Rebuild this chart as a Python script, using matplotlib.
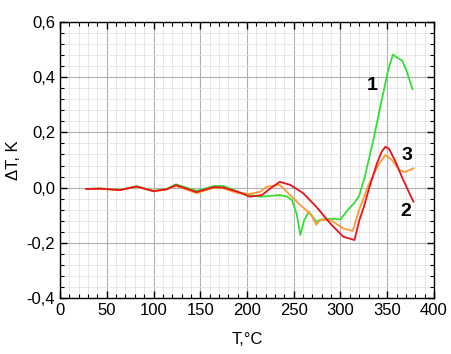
import matplotlib
matplotlib.use("Agg")
import matplotlib.pyplot as plt
from matplotlib.ticker import MultipleLocator, FuncFormatter

plt.rcParams['font.family'] = ['Liberation Sans', 'DejaVu Sans']

# Curve 1 (green)
t1 = [28, 43, 64, 82, 100, 114, 124, 146, 165, 175, 190, 203, 214, 225, 235, 243, 248, 253, 257,
      261, 266, 270, 274, 280, 290, 300, 308, 315, 320, 326, 335, 343, 351, 356, 361, 366, 371, 377]
y1 = [-0.005, -0.003, -0.008, 0.005, -0.012, -0.005, 0.012, -0.012, 0.006, 0.006, -0.015, -0.027,
      -0.033, -0.030, -0.027, -0.033, -0.045, -0.093, -0.172, -0.120, -0.087, -0.105, -0.123, -0.115,
      -0.113, -0.115, -0.080, -0.055, -0.030, 0.040, 0.170, 0.300, 0.426, 0.482, 0.470, 0.460, 0.420, 0.356]

# Curve 3 (orange)
t3 = [28, 43, 64, 82, 100, 114, 124, 146, 165, 175, 190, 203, 214, 221, 235, 246, 257, 269, 274,
      278, 289, 303, 313, 320, 330, 340, 348, 355, 363, 369, 378]
y3 = [-0.005, -0.004, -0.009, 0.003, -0.013, -0.007, 0.006, -0.020, 0.000, -0.003, -0.020, -0.023,
      -0.015, 0.003, 0.010, -0.027, -0.063, -0.100, -0.135, -0.117, -0.117, -0.148, -0.157, -0.080,
      0.010, 0.080, 0.118, 0.100, 0.064, 0.056, 0.070]

# Curve 2 (red)
t2 = [28, 43, 64, 82, 100, 114, 124, 146, 165, 175, 190, 203, 216, 225, 235, 246, 260, 274, 289,
      303, 315, 320, 325, 330, 339, 344, 348, 352, 358, 367, 378]
y2 = [-0.005, -0.004, -0.009, 0.004, -0.013, -0.006, 0.009, -0.016, 0.002, 0.000, -0.015, -0.033,
      -0.027, -0.003, 0.021, 0.010, -0.020, -0.069, -0.130, -0.178, -0.190, -0.120, -0.070, -0.009,
      0.088, 0.130, 0.148, 0.140, 0.100, 0.028, -0.051]

labels = ["1", "3", "2"]
label_pos = [(333.7, 0.371), (371, 0.118), (370, -0.085)]

fig = plt.figure(figsize=(4.52, 3.54), dpi=100)
ax = fig.add_axes([60/452, 1-298/354, 374/452, 276/354])

ax.plot(t1, y1, color='#33e033', lw=1.3, zorder=3)
ax.plot(t3, y3, color='#ff9933', lw=1.3, zorder=4)
ax.plot(t2, y2, color='#e8141c', lw=1.3, zorder=5)

for lab, (x, y) in zip(labels, label_pos):
    ax.text(x, y, lab, fontsize=14, fontweight='bold', ha='center', va='center')

ax.set_xlim(0, 400)
ax.set_ylim(-0.4, 0.6)
ax.xaxis.set_major_locator(MultipleLocator(50))
ax.xaxis.set_minor_locator(MultipleLocator(10))
ax.yaxis.set_major_locator(MultipleLocator(0.2))
ax.yaxis.set_minor_locator(MultipleLocator(0.04))
ax.yaxis.set_major_formatter(FuncFormatter(lambda v, p: ("%.1f" % v).replace('.', ',').replace('−', '-')))
ax.xaxis.set_major_formatter(FuncFormatter(lambda v, p: "%d" % v))

ax.grid(which='major', color='#b0b0b0', lw=0.8)
ax.grid(which='minor', color='#e3e3e3', lw=0.6)
ax.set_axisbelow(True)

ax.tick_params(which='both', direction='in', top=True, right=True, labelsize=12)
ax.tick_params(which='major', length=5, width=1)
ax.tick_params(which='minor', length=3, width=0.8)
for s in ax.spines.values():
    s.set_linewidth(1)

ax.set_xlabel("T,°C", fontsize=12, labelpad=10)
ax.set_ylabel("ΔT, K", fontsize=12, labelpad=4)

fig.savefig("out.png", dpi=100)
